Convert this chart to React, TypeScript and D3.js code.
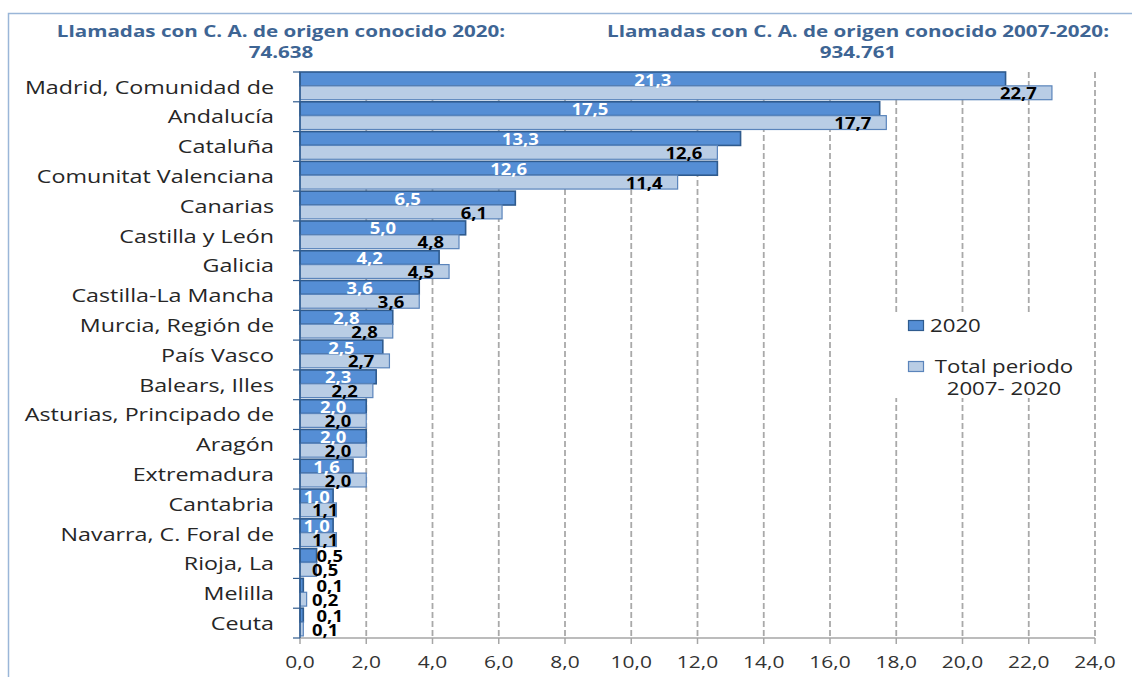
import React from "react";
import * as d3 from "d3";

const categories = [
  "Madrid, Comunidad de",
  "Andalucía",
  "Cataluña",
  "Comunitat Valenciana",
  "Canarias",
  "Castilla y León",
  "Galicia",
  "Castilla-La Mancha",
  "Murcia, Región de",
  "País Vasco",
  "Balears, Illes",
  "Asturias, Principado de",
  "Aragón",
  "Extremadura",
  "Cantabria",
  "Navarra, C. Foral de",
  "Rioja, La",
  "Melilla",
  "Ceuta",
];
const values2020 = [21.3, 17.5, 13.3, 12.6, 6.5, 5.0, 4.2, 3.6, 2.8, 2.5, 2.3, 2.0, 2.0, 1.6, 1.0, 1.0, 0.5, 0.1, 0.1];
const valuesTotal = [22.7, 17.7, 12.6, 11.4, 6.1, 4.8, 4.5, 3.6, 2.8, 2.7, 2.2, 2.0, 2.0, 2.0, 1.1, 1.1, 0.5, 0.2, 0.1];
const xTicks = [0, 2, 4, 6, 8, 10, 12, 14, 16, 18, 20, 22, 24];
const title1 = ["Llamadas con C. A. de origen conocido 2020:", "74.638"];
const title2 = ["Llamadas con C. A. de origen conocido 2007-2020:", "934.761"];
const legendLabels = [["2020"], ["Total periodo", "2007- 2020"]];

const FONT = "'Open Sans', 'Noto Sans', sans-serif";
const fmt = (v: number) => v.toFixed(1).replace(".", ",");

function SText(props: {
  x: number; y: number; sx?: number; anchor?: string; size: number; weight?: string | number; fill?: string; children: any;
}) {
  const { x, y, sx = 1.25, anchor = "start", size, weight = "normal", fill = "#262626", children } = props;
  return (
    <text
      transform={`translate(${x},${y}) scale(${sx},1)`}
      textAnchor={anchor}
      dominantBaseline="central"
      fontFamily={FONT}
      fontSize={size}
      fontWeight={weight}
      fill={fill}
    >
      {children}
    </text>
  );
}

export default function App() {
  const W = 1132, H = 677;
  const x = d3.scaleLinear().domain([0, 24]).range([300, 1095]);
  const y = d3.scaleBand<string>().domain(categories).range([72, 638]).padding(0);
  const bw = y.bandwidth();
  const inner = d3.scaleBand<string>().domain(["2020", "total"]).range([0, bw * 0.93]).padding(0);
  const ih = inner.bandwidth();
  const yTop = 72, yBot = 638;
  const titleProps = { size: 15.5, weight: "bold", fill: "#3e6594", anchor: "middle", sx: 1.33 };

  return (
    <svg width={W} height={H} style={{ position: "absolute", left: 0, top: 0 }}>
      <rect x={0} y={0} width={W} height={H} fill="#fff" />
      <rect x={8.5} y={13.5} width={1140} height={700} fill="none" stroke="#9ab6d8" strokeWidth={1.5} />

      {/* titles */}
      <SText x={281} y={31} {...titleProps}>{title1[0]}</SText>
      <SText x={281} y={52} {...titleProps}>{title1[1]}</SText>
      <SText x={858} y={31} {...titleProps}>{title2[0]}</SText>
      <SText x={858} y={52} {...titleProps}>{title2[1]}</SText>

      {/* gridlines */}
      {xTicks.filter((t) => t > 0).map((t) => (
        <line key={"g" + t} x1={x(t)} x2={x(t)} y1={yTop} y2={yBot} stroke="#a9a9a9" strokeWidth={1.8} strokeDasharray="6,3" />
      ))}

      {/* x axis */}
      <line x1={x(0)} x2={x(24)} y1={yBot} y2={yBot} stroke="#a6a6a6" strokeWidth={1.5} />
      {xTicks.map((t) => (
        <g key={"t" + t}>
          <line x1={x(t)} x2={x(t)} y1={yBot} y2={yBot + 6} stroke="#a6a6a6" strokeWidth={1.5} />
          <SText x={x(t)} y={662} size={16.5} anchor="middle" fill="#333" sx={1.27}>{fmt(t)}</SText>
        </g>
      ))}

      {/* bars */}
      {categories.map((c, i) => {
        const y0 = y(c)!;
        const v1 = values2020[i], v2 = valuesTotal[i];
        return (
          <g key={c}>
            <rect x={x(0)} y={y0 + inner("2020")!} width={x(v1) - x(0)} height={ih} fill="#558ed5" stroke="#2f5b8e" strokeWidth={1.6} />
            <rect x={x(0)} y={y0 + inner("total")!} width={x(v2) - x(0)} height={ih} fill="#b9cde5" stroke="#5a84bb" strokeWidth={1.2} />
          </g>
        );
      })}

      {/* y axis */}
      <line x1={x(0)} x2={x(0)} y1={yTop} y2={yBot} stroke="#2f5b8e" strokeWidth={1.5} />
      {categories.map((c) => (
        <line key={"yt" + c} x1={x(0) - 7} x2={x(0)} y1={y(c)!} y2={y(c)!} stroke="#2f5b8e" strokeWidth={1.2} />
      ))}
      <line x1={x(0) - 7} x2={x(0)} y1={yBot} y2={yBot} stroke="#2f5b8e" strokeWidth={1.2} />

      {/* category labels */}
      {categories.map((c) => (
        <SText key={"cl" + c} x={274} y={y(c)! + bw / 2} size={17.5} anchor="end" fill="#262626" sx={1.33}>{c}</SText>
      ))}

      {/* value labels */}
      {categories.map((c, i) => {
        const y0 = y(c)!;
        const v1 = values2020[i], v2 = valuesTotal[i];
        const cy1 = y0 + inner("2020")! + ih / 2;
        const cy2 = y0 + inner("total")! + ih / 2;
        const lp = { size: 16.5, weight: "bold", sx: 1.12 };
        const l1 = v1 >= 1
          ? <SText x={(x(0) + x(v1)) / 2} y={cy1} anchor="middle" fill="#fff" {...lp}>{fmt(v1)}</SText>
          : <SText x={x(0.5)} y={cy1} anchor="start" fill="#000" {...lp}>{fmt(v1)}</SText>;
        const l2 = v2 >= 1.5
          ? <SText x={x(v2) - 15} y={cy2} anchor="end" fill="#000" {...lp}>{fmt(v2)}</SText>
          : <SText x={x(0) + 12} y={cy2} anchor="start" fill="#000" {...lp}>{fmt(v2)}</SText>;
        return <g key={"vl" + c}>{l1}{l2}</g>;
      })}

      {/* legend */}
      <rect x={890} y={314} width={196} height={84} fill="#fff" />
      <rect x={908.5} y={320.5} width={15} height={10} fill="#558ed5" stroke="#2f5b8e" strokeWidth={1.2} />
      <SText x={930} y={325} size={17.5} anchor="start" sx={1.27}>{legendLabels[0][0]}</SText>
      <rect x={908.5} y={361.5} width={15} height={10} fill="#b9cde5" stroke="#5a84bb" strokeWidth={1.2} />
      <SText x={1004} y={366} size={17.5} anchor="middle" sx={1.27}>{legendLabels[1][0]}</SText>
      <SText x={1004} y={388} size={17.5} anchor="middle" sx={1.27}>{legendLabels[1][1]}</SText>
    </svg>
  );
}
